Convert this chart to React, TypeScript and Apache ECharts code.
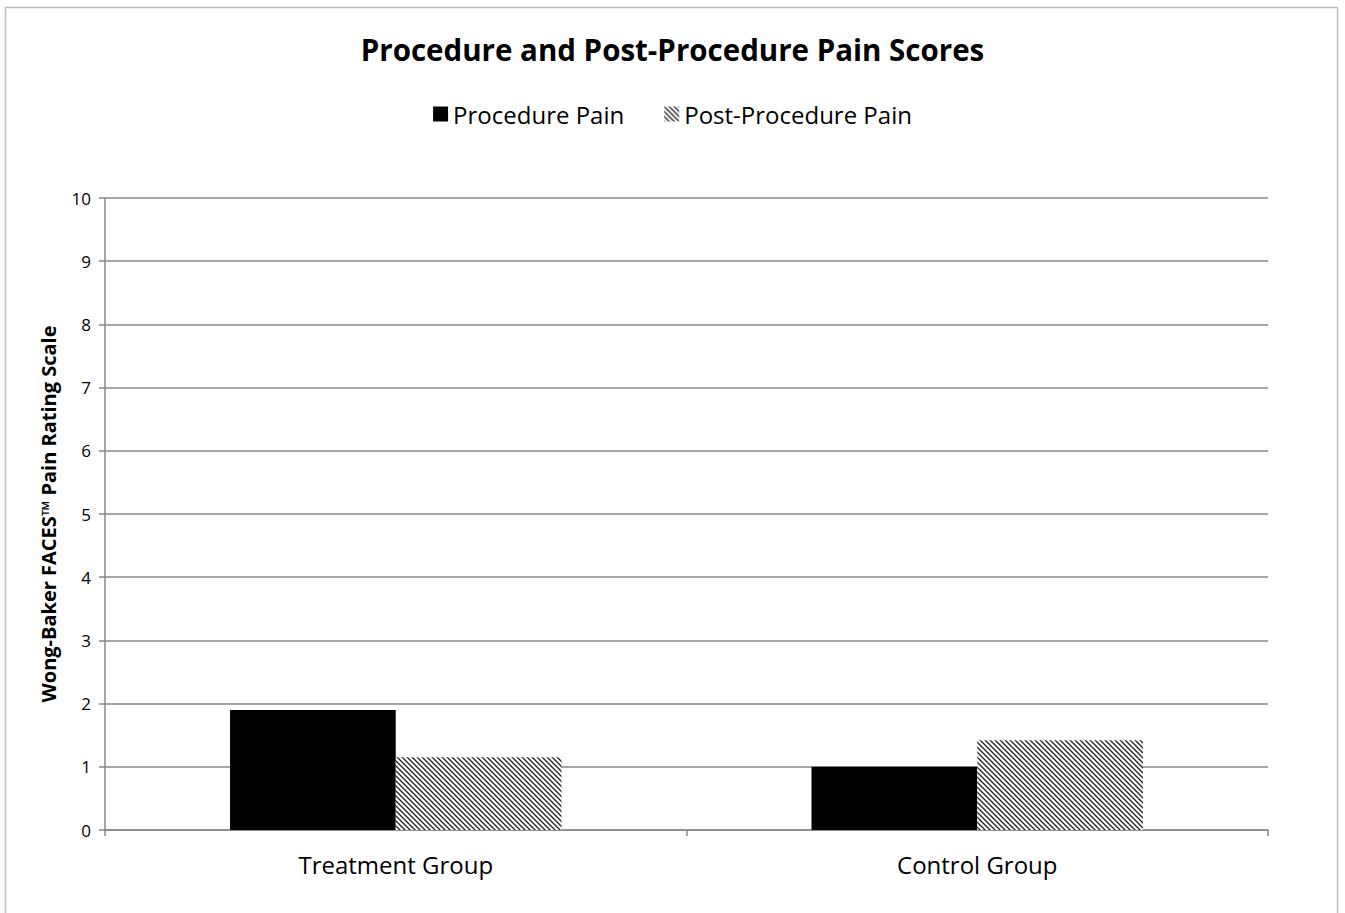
import React, { useEffect, useRef } from "react";
import * as echarts from "echarts";

const categories = ["Treatment Group", "Control Group"];
const procedurePain = [1.9, 1.0];
const postProcedurePain = [1.15, 1.42];
const seriesNames = ["Procedure Pain", "Post-Procedure Pain"];

function makeStripe(): HTMLCanvasElement {
  const c = document.createElement("canvas");
  const s = 5;
  c.width = s;
  c.height = s;
  const ctx = c.getContext("2d")!;
  ctx.fillStyle = "#ffffff";
  ctx.fillRect(0, 0, s, s);
  ctx.strokeStyle = "#222222";
  ctx.lineWidth = 1.3;
  ctx.beginPath();
  ctx.moveTo(-1, -1);
  ctx.lineTo(s + 1, s + 1);
  ctx.moveTo(-1 - s, -1);
  ctx.lineTo(1, s + 1);
  ctx.moveTo(s - 1, -1);
  ctx.lineTo(2 * s + 1, s + 1);
  ctx.stroke();
  return c;
}

export default function App() {
  const ref = useRef<HTMLDivElement>(null);
  useEffect(() => {
    const chart = echarts.init(ref.current!, null, { renderer: "svg" });
    const stripe = makeStripe();
    const font = "'Open Sans', 'Noto Sans', sans-serif";
    chart.setOption({
      animation: false,
      backgroundColor: "#ffffff",
      textStyle: { fontFamily: font },
      graphic: [
        {
          type: "rect",
          shape: { x: 5.5, y: 7.5, width: 1332, height: 1000 },
          style: { fill: "none", stroke: "#bdbdbd", lineWidth: 1.5 },
          silent: true,
        },
      ],
      title: {
        text: "Procedure and Post-Procedure Pain Scores",
        left: "center",
        top: 29,
        textStyle: { fontFamily: font, fontSize: 29.5, fontWeight: "bold", color: "#000" },
      },
      legend: {
        top: 97,
        left: "center",
        itemWidth: 15,
        itemHeight: 15,
        itemGap: 40,
        icon: "rect",
        textStyle: { fontFamily: font, fontSize: 24, color: "#000" },
        data: seriesNames,
      },
      grid: { left: 105, right: 77, top: 198, bottom: 83, containLabel: false },
      xAxis: {
        type: "category",
        data: categories,
        axisLine: { lineStyle: { color: "#888", width: 1.5 } },
        axisTick: { show: true, length: 6, lineStyle: { color: "#888", width: 1.5 } },
        axisLabel: { fontFamily: font, fontSize: 24, color: "#000", margin: 22 },
      },
      yAxis: {
        type: "value",
        min: 0,
        max: 10,
        interval: 1,
        name: "Wong-Baker FACES™ Pain Rating Scale",
        nameLocation: "middle",
        nameGap: 47,
        nameTextStyle: { fontFamily: font, fontSize: 20, fontWeight: "bold", color: "#000" },
        axisLine: { show: true, lineStyle: { color: "#888", width: 1.5 } },
        axisTick: { show: true, length: 6, lineStyle: { color: "#888", width: 1.5 } },
        axisLabel: { fontFamily: font, fontSize: 17, color: "#000", margin: 14 },
        splitLine: { lineStyle: { color: "#888", width: 1.5 } },
      },
      series: [
        {
          name: seriesNames[0],
          type: "bar",
          data: procedurePain,
          barGap: "0%",
          barCategoryGap: "43%",
          itemStyle: { color: "#000" },
        },
        {
          name: seriesNames[1],
          type: "bar",
          data: postProcedurePain,
          barGap: "0%",
          barCategoryGap: "43%",
          itemStyle: { color: { image: stripe, repeat: "repeat" } as any },
        },
      ],
    });
    return () => chart.dispose();
  }, []);
  return (
    <div
      ref={ref}
      style={{ position: "fixed", left: 0, top: 0, width: 1345, height: 913 }}
    />
  );
}
